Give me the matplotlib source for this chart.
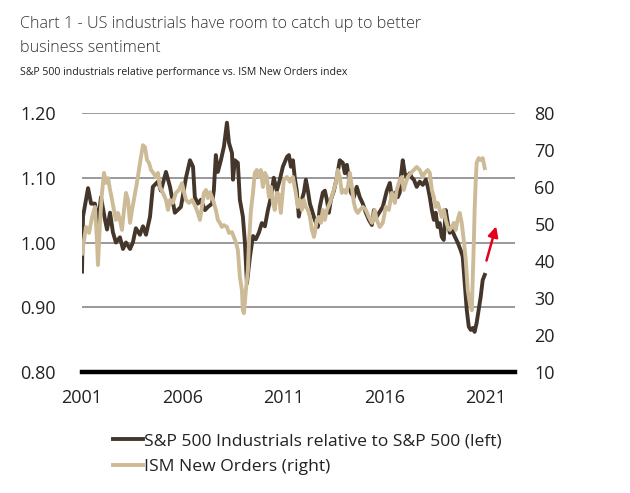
import matplotlib
matplotlib.use("Agg")
import matplotlib.pyplot as plt

# S&P 500 industrials relative to S&P 500 (left axis)
ind_years = [2001.00, 2001.05, 2001.30, 2001.45, 2001.64, 2001.79, 2001.94, 2002.14, 2002.24, 2002.39,
             2002.53, 2002.68, 2002.88, 2003.03, 2003.18, 2003.38, 2003.52, 2003.67, 2003.87, 2004.02,
             2004.17, 2004.37, 2004.51, 2004.76, 2004.91, 2005.16, 2005.36, 2005.60, 2005.90, 2006.15,
             2006.35, 2006.50, 2006.59, 2006.74, 2006.89, 2007.09, 2007.24, 2007.44, 2007.53, 2007.63,
             2007.73, 2007.88, 2008.03, 2008.18, 2008.28, 2008.43, 2008.48, 2008.57, 2008.72, 2008.82,
             2008.97, 2009.07, 2009.17, 2009.32, 2009.47, 2009.61, 2009.76, 2009.91, 2010.06, 2010.21,
             2010.36, 2010.50, 2010.65, 2010.80, 2010.95, 2011.15, 2011.25, 2011.35, 2011.45, 2011.54,
             2011.64, 2011.74, 2011.89, 2011.99, 2012.09, 2012.19, 2012.29, 2012.39, 2012.53, 2012.68,
             2012.78, 2012.93, 2013.03, 2013.13, 2013.23, 2013.33, 2013.48, 2013.62, 2013.77, 2013.92,
             2014.02, 2014.12, 2014.22, 2014.32, 2014.47, 2014.61, 2014.76, 2014.91, 2015.06, 2015.21,
             2015.36, 2015.46, 2015.60, 2015.70, 2015.90, 2016.10, 2016.25, 2016.35, 2016.50, 2016.64,
             2016.74, 2016.79, 2016.89, 2016.99, 2017.09, 2017.24, 2017.34, 2017.44, 2017.58, 2017.73,
             2017.88, 2018.03, 2018.13, 2018.23, 2018.33, 2018.43, 2018.52, 2018.62, 2018.72, 2018.82,
             2018.92, 2019.02, 2019.12, 2019.22, 2019.32, 2019.47, 2019.61, 2019.76, 2019.86, 2019.96,
             2020.06, 2020.16, 2020.26, 2020.36, 2020.45, 2020.55, 2020.65, 2020.75, 2020.85, 2020.95]
ind_values = [0.955, 1.040, 1.084, 1.060, 1.060, 1.030, 1.070, 1.035, 1.020, 1.046,
              1.016, 1.000, 1.008, 0.990, 1.000, 0.990, 1.000, 1.022, 1.012, 1.025,
              1.012, 1.040, 1.086, 1.094, 1.080, 1.109, 1.086, 1.046, 1.055, 1.100,
              1.127, 1.117, 1.070, 1.060, 1.066, 1.050, 1.055, 1.060, 1.080, 1.135,
              1.109, 1.127, 1.148, 1.185, 1.154, 1.138, 1.097, 1.127, 1.123, 1.066,
              1.040, 1.000, 0.937, 0.978, 1.010, 1.005, 1.015, 1.030, 1.025, 1.050,
              1.070, 1.100, 1.080, 1.097, 1.117, 1.132, 1.135, 1.117, 1.127, 1.100,
              1.080, 1.040, 1.066, 1.077, 1.097, 1.080, 1.060, 1.050, 1.035, 1.024,
              1.055, 1.077, 1.080, 1.066, 1.046, 1.066, 1.080, 1.100, 1.127, 1.123,
              1.107, 1.120, 1.100, 1.077, 1.070, 1.086, 1.070, 1.060, 1.046, 1.035,
              1.027, 1.050, 1.040, 1.045, 1.055, 1.080, 1.092, 1.070, 1.077, 1.070,
              1.077, 1.100, 1.127, 1.107, 1.100, 1.107, 1.100, 1.097, 1.086, 1.094,
              1.089, 1.097, 1.086, 1.070, 1.050, 1.035, 1.046, 1.024, 1.030, 1.009,
              1.004, 1.050, 1.030, 1.015, 1.020, 1.009, 1.000, 0.988, 0.978, 0.937,
              0.896, 0.870, 0.865, 0.868, 0.862, 0.876, 0.896, 0.916, 0.942, 0.950]

# ISM New Orders index (right axis)
ism_years = [2001.00, 2001.20, 2001.35, 2001.50, 2001.64, 2001.74, 2001.79, 2001.89, 2001.99, 2002.09,
             2002.19, 2002.29, 2002.39, 2002.49, 2002.58, 2002.68, 2002.78, 2002.88, 2002.98, 2003.08,
             2003.18, 2003.28, 2003.38, 2003.48, 2003.57, 2003.72, 2003.82, 2003.92, 2004.02, 2004.12,
             2004.22, 2004.32, 2004.42, 2004.51, 2004.66, 2004.76, 2004.86, 2005.01, 2005.16, 2005.26,
             2005.36, 2005.50, 2005.65, 2005.80, 2005.95, 2006.15, 2006.30, 2006.45, 2006.59, 2006.74,
             2006.84, 2006.94, 2007.04, 2007.14, 2007.24, 2007.34, 2007.49, 2007.63, 2007.73, 2007.83,
             2007.93, 2008.03, 2008.18, 2008.28, 2008.43, 2008.52, 2008.62, 2008.72, 2008.82, 2008.92,
             2008.97, 2009.02, 2009.12, 2009.22, 2009.27, 2009.37, 2009.47, 2009.56, 2009.66, 2009.76,
             2009.86, 2009.96, 2010.06, 2010.16, 2010.26, 2010.36, 2010.46, 2010.55, 2010.65, 2010.75,
             2010.85, 2011.00, 2011.15, 2011.30, 2011.45, 2011.59, 2011.69, 2011.79, 2011.89, 2011.99,
             2012.09, 2012.19, 2012.29, 2012.39, 2012.49, 2012.53, 2012.63, 2012.73, 2012.83, 2012.93,
             2013.03, 2013.13, 2013.28, 2013.43, 2013.57, 2013.67, 2013.77, 2013.87, 2013.97, 2014.07,
             2014.17, 2014.27, 2014.37, 2014.47, 2014.56, 2014.66, 2014.76, 2014.91, 2015.06, 2015.21,
             2015.36, 2015.50, 2015.60, 2015.75, 2015.90, 2016.05, 2016.20, 2016.35, 2016.50, 2016.59,
             2016.74, 2016.84, 2016.94, 2017.04, 2017.14, 2017.29, 2017.44, 2017.58, 2017.73, 2017.88,
             2017.98, 2018.13, 2018.23, 2018.33, 2018.43, 2018.52, 2018.62, 2018.72, 2018.82, 2018.92,
             2019.02, 2019.12, 2019.22, 2019.32, 2019.42, 2019.51, 2019.61, 2019.71, 2019.81, 2019.91,
             2020.01, 2020.11, 2020.21, 2020.31, 2020.36, 2020.41, 2020.45, 2020.50, 2020.55, 2020.65,
             2020.75, 2020.85, 2020.95]
ism_values = [42.0, 49.2, 47.6, 51.9, 54.6, 45.7, 38.9, 50.3, 58.4, 63.8,
              61.1, 62.4, 59.2, 56.5, 53.8, 51.1, 53.0, 51.1, 48.4, 53.8,
              58.4, 56.5, 50.3, 53.8, 56.5, 61.1, 64.6, 68.1, 71.3, 70.8,
              67.3, 66.5, 64.6, 64.0, 62.7, 63.8, 60.0, 58.4, 56.5, 53.8,
              56.5, 55.7, 58.4, 59.2, 61.0, 56.5, 55.7, 56.5, 55.1, 53.0,
              51.1, 54.6, 58.4, 59.2, 57.0, 58.6, 56.5, 53.8, 51.1, 50.3,
              49.2, 49.7, 49.2, 47.6, 47.8, 46.5, 45.1, 43.0, 35.7, 32.2,
              26.7, 25.9, 32.2, 37.6, 44.9, 53.8, 58.4, 63.8, 64.6, 62.7,
              64.6, 60.0, 63.8, 62.7, 57.3, 60.0, 55.7, 53.8, 58.4, 58.0,
              53.0, 62.0, 62.7, 61.4, 62.7, 58.4, 54.6, 56.5, 53.8, 56.5,
              54.6, 53.8, 51.9, 48.4, 46.5, 47.6, 51.1, 51.9, 50.3, 53.8,
              51.1, 53.8, 55.7, 58.4, 61.1, 64.6, 62.7, 58.4, 59.2, 58.4,
              60.0, 63.8, 60.0, 55.7, 53.8, 53.0, 53.8, 54.6, 53.8, 51.9,
              50.3, 53.8, 51.1, 49.2, 50.3, 54.6, 53.8, 58.4, 55.7, 59.2,
              61.9, 62.7, 59.2, 61.1, 62.7, 63.8, 64.6, 65.4, 64.6, 62.7,
              63.8, 64.6, 63.8, 59.2, 57.3, 54.6, 55.7, 53.8, 51.9, 53.8,
              51.1, 49.2, 48.4, 49.2, 50.3, 48.4, 51.1, 53.0, 50.3, 45.7,
              40.3, 32.2, 28.6, 26.7, 35.7, 44.9, 53.8, 61.1, 66.5, 67.8,
              67.3, 67.8, 65.1]

x_ticks = [2001, 2006, 2011, 2016, 2021]
left_ticks = [0.80, 0.90, 1.00, 1.10, 1.20]
right_ticks = [10, 20, 30, 40, 50, 60, 70, 80]

brown = "#45362b"
tan = "#cdbb97"
font = "Open Sans"

plt.rcParams["font.family"] = [font, "DejaVu Sans"]

fig = plt.figure(figsize=(6.3, 4.93), dpi=100)
ax = fig.add_axes([82 / 630, 1 - 372 / 493, 433 / 630, 259 / 493])

ax.plot(ind_years, ind_values, color=brown, lw=2.8, label="S&P 500 Industrials relative to S&P 500 (left)")
ax.set_xlim(2001, 2022.45)
ax.set_ylim(0.80, 1.20)
ax.set_yticks(left_ticks)
ax.set_yticklabels([f"{v:.2f}" for v in left_ticks])
ax.set_xticks(x_ticks)
for v in left_ticks[1:]:
    ax.axhline(v, color="#9a9a9a", lw=1.4, zorder=0)
for s in ["top", "left", "right"]:
    ax.spines[s].set_visible(False)
ax.spines["bottom"].set_linewidth(3.2)
ax.spines["bottom"].set_color("black")
ax.tick_params(axis="both", length=0, labelsize=13, colors="#222222")
ax.tick_params(axis="y", pad=19)
ax.tick_params(axis="x", pad=12)

ax2 = ax.twinx()
ax2.plot(ism_years, ism_values, color=tan, lw=2.8, label="ISM New Orders (right)")
ax2.set_ylim(10, 80)
ax2.set_yticks(right_ticks)
for s in ["top", "left", "right", "bottom"]:
    ax2.spines[s].set_visible(False)
ax2.tick_params(axis="y", length=0, labelsize=13, colors="#222222", pad=14)

# red arrow pointing up from latest relative-performance value
ax.annotate("", xy=(2021.55, 1.029), xytext=(2021.0, 0.968),
            arrowprops=dict(arrowstyle="-|>,head_length=0.6,head_width=0.3", color="#e3001a", lw=1.8))

h1, l1 = ax.get_legend_handles_labels()
h2, l2 = ax2.get_legend_handles_labels()
fig.legend(h1 + h2, l1 + l2, loc="upper left", bbox_to_anchor=(104 / 630, 1 - 424 / 493),
           frameon=False, fontsize=12.6, handlelength=1.7, handletextpad=0.1,
           labelspacing=0.55, borderpad=0, labelcolor="#222222")

title_kw = dict(fontsize=11.6, color="#333333", va="baseline", fontweight="light")
fig.text(20 / 630, 1 - 28 / 493, "Chart 1 - US industrials have room to catch up to better", **title_kw)
fig.text(20 / 630, 1 - 52 / 493, "business sentiment", **title_kw)
fig.text(20 / 630, 1 - 75 / 493, "S&P 500 industrials relative performance vs. ISM New Orders index",
         fontsize=7.6, color="#222222", va="baseline")

fig.savefig("out.png", dpi=100)
